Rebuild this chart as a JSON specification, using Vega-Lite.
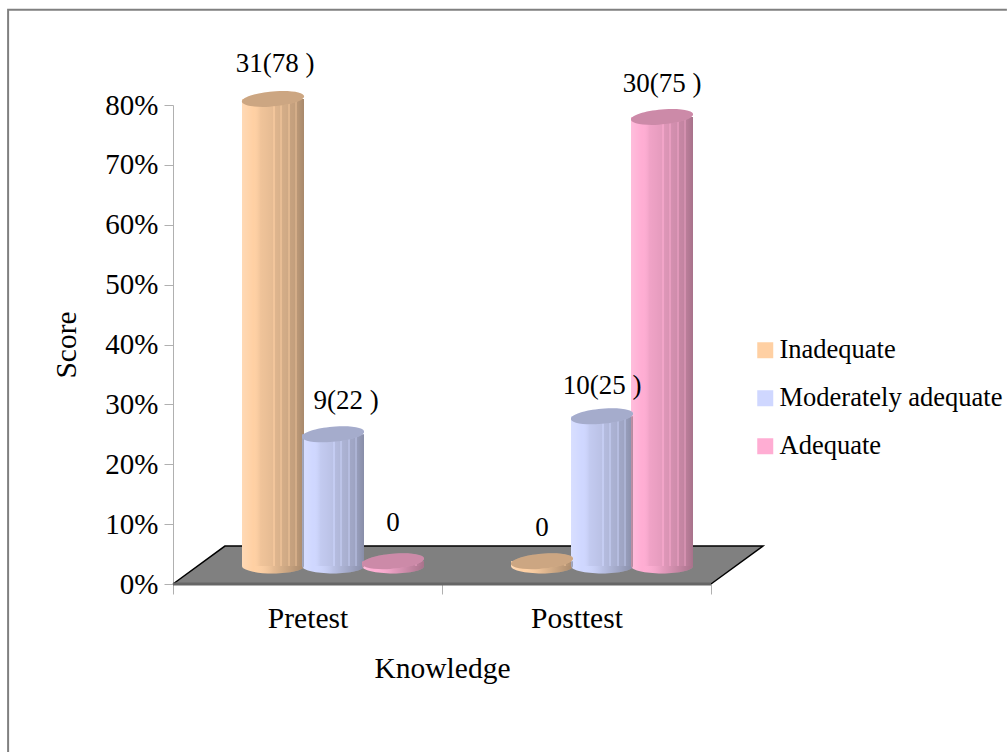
{
"$schema":"https://vega.github.io/schema/vega-lite/v6.json",
"autosize":"none","width":538,"height":479,
"padding":{"left":173,"top":105,"right":297,"bottom":168},
"background":"white",
"config":{"view":{"stroke":null},"font":"Liberation Serif"},
"datasets":{
"bars":[
{"test":"Pretest","level":"Inadequate","value":78,"label":"31(78 )"},
{"test":"Pretest","level":"Moderately adequate","value":22,"label":"9(22 )"},
{"test":"Pretest","level":"Adequate","value":0.8,"label":"0"},
{"test":"Posttest","level":"Inadequate","value":0.8,"label":"0"},
{"test":"Posttest","level":"Moderately adequate","value":25,"label":"10(25 )"},
{"test":"Posttest","level":"Adequate","value":75,"label":"30(75 )"}],
"floor":[{"pct":0,"a":0,"b":2},{"pct":6.34,"a":0.193,"b":2.193}],
"edge":[{"i":1,"p":0,"q":0},{"i":2,"p":0.193,"q":6.34},{"i":3,"p":2.193,"q":6.34},{"i":4,"p":2,"q":0}],
"frame":[{"i":1,"p":-0.613,"q":-28.1},{"i":2,"p":-0.613,"q":95.9},{"i":3,"p":3.1,"q":95.9}],
"front":[{"i":1,"p":0,"q":0},{"i":2,"p":2,"q":0}]
},
"layer":[
{"data":{"name":"frame"},"mark":{"type":"line","stroke":"#808080","strokeWidth":2,"clip":false},
 "encoding":{"x":{"field":"p","type":"quantitative","scale":{"domain":[0,2],"nice":false,"zero":false},"axis":null},
 "y":{"field":"q","type":"quantitative","scale":{"domain":[0,80],"nice":false},"axis":null},"order":{"field":"i"}}},
{"data":{"name":"floor"},"mark":{"type":"area","orient":"horizontal","fill":"#808080","clip":false},
 "encoding":{"y":{"field":"pct","type":"quantitative","scale":{"domain":[0,80],"nice":false},"axis":null},
 "x":{"field":"a","type":"quantitative","scale":{"domain":[0,2],"nice":false,"zero":false},"axis":null},"x2":{"field":"b"}}},
{"data":{"name":"edge"},"mark":{"type":"line","stroke":"#000000","strokeWidth":1.5},
 "encoding":{"x":{"field":"p","type":"quantitative","scale":{"domain":[0,2],"nice":false,"zero":false},"axis":null},
 "y":{"field":"q","type":"quantitative","scale":{"domain":[0,80],"nice":false},"axis":null},"order":{"field":"i"}}},
{"data":{"name":"front"},"mark":{"type":"line","stroke":"#666666","strokeWidth":3},
 "encoding":{"x":{"field":"p","type":"quantitative","scale":{"domain":[0,2],"nice":false,"zero":false},"axis":null},
 "y":{"field":"q","type":"quantitative","scale":{"domain":[0,80],"nice":false},"axis":null},"order":{"field":"i"}}},
{"data":{"name":"bars"},
 "encoding":{
 "x":{"field":"test","type":"nominal","sort":["Pretest","Posttest"],"scale":{"padding":0},
  "axis":{"title":"Knowledge","titleFontSize":29.5,"titleFontWeight":"normal","titleColor":"#000","titlePadding":22,"labelAngle":0,"labelFontSize":29.5,"labelColor":"#000","labelPadding":10,"tickBand":"extent","tickSize":10,"tickColor":"#b0b0b0","domainColor":"#b0b0b0"}},
 "xOffset":{"field":"level","type":"nominal","scale":{"domain":["_","Inadequate","Moderately adequate","Adequate"],"paddingInner":0,"paddingOuter":0.2417,"align":0.345}},
 "y":{"field":"value","type":"quantitative","scale":{"domain":[0,80],"nice":false},
  "axis":{"title":"Score","titleFontSize":29.5,"titleFontWeight":"normal","titleColor":"#000","titlePadding":23,"values":[0,10,20,30,40,50,60,70,80],"labelExpr":"datum.value+'%'","labelFontSize":29,"labelColor":"#000","labelPadding":6,"tickSize":9,"tickColor":"#b0b0b0","domainColor":"#b0b0b0","grid":false}}
 },
 "layer":[
 {"mark":{"type":"point","filled":true,"opacity":1,"size":3844,"yOffset":-18,"shape":"M-1,0A1,0.24 0 1 0 1,0A1,0.24 0 1 0 -1,0Z"},
  "encoding":{"y":{"datum":0,"type":"quantitative"},"color":{"field":"level","type":"nominal","scale":{"domain":["Inadequate","Moderately adequate","Adequate"],"range":["#FFD0A3","#CFD7FF","#FFADD3"]},
   "legend":{"title":null,"orient":"none","legendX":579,"legendY":232,"padding":0,"labelFontSize":26.5,"labelColor":"#000","labelOffset":1,"labelLimit":300,"symbolType":"square","symbolSize":256,"symbolStrokeWidth":0,"symbolOpacity":1,"rowPadding":21}}}},
 {"mark":{"type":"point","filled":true,"size":3844,"yOffset":-18,"opacity":1,"shape":"M-1,0A1,0.24 0 1 0 1,0A1,0.24 0 1 0 -1,0Z","fill":{"x1":0,"y1":0,"x2":1,"y2":0,"gradient":"linear","stops":[
  {"offset":0,"color":"rgba(255,255,255,0.2)"},{"offset":0.18,"color":"rgba(255,255,255,0)"},{"offset":0.5,"color":"rgba(0,0,0,0.1)"},{"offset":1,"color":"rgba(0,0,0,0.34)"}]}},
  "encoding":{"y":{"datum":0,"type":"quantitative"}}},
 {"mark":{"type":"bar","width":62,"yOffset":-18,"y2Offset":-18,"clip":false},
  "encoding":{"y2":{"datum":0},"color":{"field":"level","type":"nominal"}}},
 {"mark":{"type":"bar","width":62,"yOffset":-18,"y2Offset":-18,"fill":{"x1":0,"y1":0,"x2":1,"y2":0,"gradient":"linear","stops":[
  {"offset":0,"color":"rgba(255,255,255,0.2)"},{"offset":0.18,"color":"rgba(255,255,255,0)"},{"offset":0.3,"color":"rgba(0,0,0,0.06)"},{"offset":0.5,"color":"rgba(0,0,0,0.1)"},
  {"offset":0.5,"color":"rgba(0,0,0,0.05)"},{"offset":0.54,"color":"rgba(0,0,0,0.05)"},{"offset":0.54,"color":"rgba(0,0,0,0.13)"},{"offset":0.62,"color":"rgba(0,0,0,0.15)"},
  {"offset":0.62,"color":"rgba(0,0,0,0.09)"},{"offset":0.65,"color":"rgba(0,0,0,0.09)"},{"offset":0.65,"color":"rgba(0,0,0,0.17)"},{"offset":0.74,"color":"rgba(0,0,0,0.19)"},
  {"offset":0.74,"color":"rgba(0,0,0,0.12)"},{"offset":0.77,"color":"rgba(0,0,0,0.12)"},{"offset":0.77,"color":"rgba(0,0,0,0.22)"},{"offset":0.86,"color":"rgba(0,0,0,0.24)"},
  {"offset":0.86,"color":"rgba(0,0,0,0.17)"},{"offset":0.89,"color":"rgba(0,0,0,0.17)"},{"offset":0.89,"color":"rgba(0,0,0,0.27)"},{"offset":1,"color":"rgba(0,0,0,0.34)"}]}},
  "encoding":{"y2":{"datum":0}}},
 {"mark":{"type":"point","filled":true,"opacity":1,"size":3844,"yOffset":-18,"shape":"M-1,0.06A1,0.24 -5 1 1 1,-0.06A1,0.24 -5 1 1 -1,0.06Z"},
  "encoding":{"color":{"field":"level","type":"nominal"}}},
 {"mark":{"type":"point","filled":true,"opacity":0.2,"fill":"#000000","size":3844,"yOffset":-18,"shape":"M-1,0.06A1,0.24 -5 1 1 1,-0.06A1,0.24 -5 1 1 -1,0.06Z"}},
 {"transform":[{"filter":"datum.label==='30(75 )'||(datum.label==='0'&&datum.test==='Posttest')"}],"mark":{"type":"text","fontSize":27,"color":"#000","dy":-51,"baseline":"middle"},
  "encoding":{"text":{"field":"label"}}},
 {"transform":[{"filter":"datum.label==='31(78 )'"}],"mark":{"type":"text","fontSize":27,"color":"#000","dy":-53,"dx":2,"baseline":"middle"},
  "encoding":{"text":{"field":"label"}}},
 {"transform":[{"filter":"datum.label==='9(22 )'"}],"mark":{"type":"text","fontSize":27,"color":"#000","dy":-51,"dx":13,"baseline":"middle"},
  "encoding":{"text":{"field":"label"}}},
 {"transform":[{"filter":"datum.label==='10(25 )'"}],"mark":{"type":"text","fontSize":27,"color":"#000","dy":-48,"baseline":"middle"},
  "encoding":{"text":{"field":"label"}}},
 {"transform":[{"filter":"datum.label==='0'&&datum.test==='Pretest'"}],"mark":{"type":"text","fontSize":27,"color":"#000","dy":-56,"baseline":"middle"},
  "encoding":{"text":{"field":"label"}}}
 ]}
],
"resolve":{"scale":{"x":"independent"},"axis":{"y":"independent"}}
}
